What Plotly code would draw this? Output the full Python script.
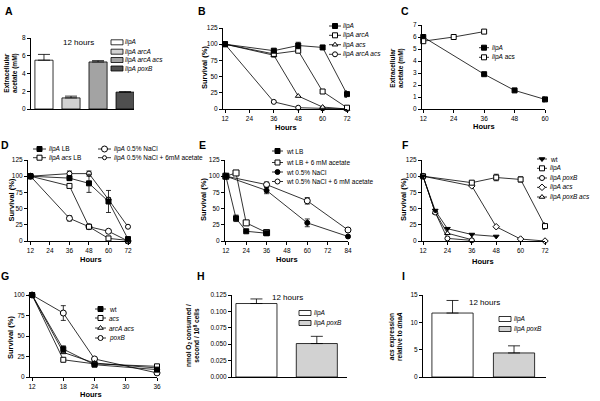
import plotly.graph_objects as go

W, H = 600, 401
FONT = "Liberation Sans, Arial, sans-serif"

# ---------------- DATA ----------------
# A: extracellular acetate at 12 h
a_labels = ["<i>lipA</i>", "<i>lipA arcA</i>", "<i>lipA arcA acs</i>", "<i>lipA poxB</i>"]
a_vals = [5.5, 1.25, 5.3, 1.9]
a_err = [0.65, 0.2, 0.15, 0.05]

# B: survival
b_hours = [12, 36, 48, 60, 72]
b_lipA = [100, 90, 98, 95, 23]
b_lipA_err = [None, None, 5, 3, 5]
b_lipA_arcA = [100, 85, 90, 27, 2]
b_lipA_arcA_err = [None, 5, None, 3, None]
b_lipA_acs = [100, 83, 20, 3, 0]
b_lipA_arcA_acs = [100, 11, 2, 1, 0]

# C: extracellular acetate over time
c_hours_lipA = [12, 36, 48, 60]
c_lipA = [6.0, 2.9, 1.55, 0.8]
c_lipA_err = [None, None, None, 0.2]
c_hours_acs = [12, 24, 36]
c_lipA_acs = [5.65, 6.0, 6.45]

# D: survival
d_hours = [12, 36, 48, 60, 72]
d_lipA_LB = [100, 97, 89, 61, 3]
d_lipA_LB_err = [None, 3, 14, 17, None]
d_lipA_acs_LB = [100, 85, 22, 4, 1]
d_lipA_NaCl = [100, 35, 22, 15, 0]
d_lipA_NaCl_err = [None, 4, None, None, None]
d_lipA_NaCl_ac = [100, 104, 104, 64, 22]
d_lipA_NaCl_ac_err = [None, 4, 4, 3, None]

# E: survival
e_hours_lb = [12, 18, 24, 36]
e_wt_LB = [100, 35, 15, 12]
e_wt_LB_err = [None, 5, None, None]
e_wt_LB_ac = [100, 105, 28, 13]
e_wt_LB_ac_err = [None, 3, None, None]
e_hours_nacl = [12, 36, 60, 84]
e_wt_NaCl = [100, 78, 28, 7]
e_wt_NaCl_err = [None, 5, 6, None]
e_wt_NaCl_ac = [100, 87, 62, 17]
e_wt_NaCl_ac_err = [None, 4, 5, None]

# F: survival
f_hours_wt = [12, 18, 24, 36, 48]
f_wt = [100, 47, 19, 10, 7]
f_hours_lipA = [12, 36, 48, 60, 72]
f_lipA = [100, 90, 98, 95, 23]
f_lipA_err = [None, None, 5, 4, 5]
f_hours_poxB = [12, 18, 24, 36]
f_lipA_poxB = [100, 44, 4, 1]
f_hours_acs = [12, 36, 48, 60, 72]
f_lipA_acs = [100, 85, 22, 3, 0]
f_hours_poxB_acs = [12, 18, 24, 36]
f_lipA_poxB_acs = [100, 44, 12, 2]

# G: survival
g_hours = [12, 18, 24, 36]
g_wt = [100, 34, 15, 9]
g_wt_err = [None, 4, None, None]
g_acs = [100, 21, 16, 13]
g_arcA_acs = [100, 30, 17, 11]
g_poxB = [100, 78, 22, 5]
g_poxB_err = [None, 9, None, None]

# H: oxygen consumption
h_labels = ["<i>lipA</i>", "<i>lipA poxB</i>"]
h_vals = [0.112, 0.051]
h_err = [0.007, 0.011]

# I: acs expression
i_labels = ["<i>lipA</i>", "<i>lipA poxB</i>"]
i_vals = [11.7, 4.4]
i_err = [2.3, 1.3]

# ---------------- STYLE ----------------
A_COLORS = ["#ffffff", "#d2d2d2", "#a3a3a3", "#4f4f4f"]
HI_COLORS = ["#ffffff", "#d2d2d2"]
LEG = 6.5


def dx(a, b):
    return [a / W, b / W]


def dy(top, bottom):
    return [1 - bottom / H, 1 - top / H]


fig = go.Figure()

axis_base = dict(showline=True, linecolor="black", linewidth=1, ticks="outside",
                 ticklen=3, tickwidth=1, tickcolor="black", showgrid=False,
                 zeroline=False, automargin=False,
                 tickfont=dict(size=6.5, color="black", family=FONT))

panels = {
    # name: (x0,x1,ytop,ybottom, xrange, yrange, xticks, yticks)
    1: (31, 134, 38, 109, [-0.48, 3.33], [0, 8], None, [0, 2, 4, 6, 8]),
    2: (223, 347, 28, 109, [11, 72], [0, 125], [12, 24, 36, 48, 60, 72], [0, 25, 50, 75, 100, 125]),
    3: (422, 545, 25, 109, [11.5, 60], [0, 7], [12, 24, 36, 48, 60], [0, 1, 2, 3, 4, 5, 6, 7]),
    4: (28, 128, 160, 241, [10.5, 72], [0, 125], [12, 24, 36, 48, 60, 72], [0, 25, 50, 75, 100, 125]),
    5: (225, 348, 160, 241, [11.5, 84], [0, 125], [12, 24, 36, 48, 60, 72, 84], [0, 25, 50, 75, 100, 125]),
    6: (422, 545, 160, 241, [11.5, 72], [0, 125], [12, 24, 36, 48, 60, 72], [0, 25, 50, 75, 100, 125]),
    7: (30, 157, 295, 377, [11.6, 36], [0, 100], [12, 18, 24, 30, 36], [0, 25, 50, 75, 100]),
    8: (232, 347, 295, 377, [-0.405, 1.5], [0, 0.125], None, [0, 0.025, 0.05, 0.075, 0.1, 0.125]),
    9: (423, 546, 295, 377, [-0.48, 1.52], [0, 15], None, [0, 5, 10, 15]),
}

layout_axes = {}
for k, (x0, x1, yt, yb, xr, yr, xt, yt_vals) in panels.items():
    sx = "xaxis" if k == 1 else f"xaxis{k}"
    sy = "yaxis" if k == 1 else f"yaxis{k}"
    xa = dict(axis_base, domain=dx(x0, x1), range=xr, anchor="y" if k == 1 else f"y{k}")
    if xt is None:
        xa.update(ticks="", showticklabels=False)
    else:
        xa.update(tickvals=xt)
    ya = dict(axis_base, domain=dy(yt, yb), range=yr, anchor="x" if k == 1 else f"x{k}",
              tickvals=yt_vals)
    if k == 8:
        ya.update(tickformat=".3f")
    layout_axes[sx] = xa
    layout_axes[sy] = ya

# overlay axis in pixel coordinates for legends / labels
layout_axes["xaxis10"] = dict(domain=[0, 1], range=[0, W], visible=False, anchor="y10",
                              automargin=False, fixedrange=True)
layout_axes["yaxis10"] = dict(domain=[0, 1], range=[H, 0], visible=False, anchor="x10",
                              automargin=False, fixedrange=True)


def ax(k):
    return ("x", "y") if k == 1 else (f"x{k}", f"y{k}")


def mk(symbol, filled, size=5):
    if filled:
        return dict(symbol=symbol, size=size, color="black", line=dict(color="black", width=1))
    return dict(symbol=symbol, size=size, color="white", line=dict(color="black", width=1))


def series(k, xs, ys, symbol, filled, err=None, size=5):
    xa, ya = ax(k)
    tr = dict(x=xs, y=ys, mode="lines+markers", xaxis=xa, yaxis=ya,
              line=dict(color="black", width=0.8), marker=mk(symbol, filled, size),
              cliponaxis=False, showlegend=False, hoverinfo="skip")
    if err is not None:
        tr["error_y"] = dict(type="data", array=err, visible=True, color="black",
                             thickness=0.8, width=2.5)
    fig.add_trace(go.Scatter(**tr))


def bars(k, vals, errs, colors, width):
    xa, ya = ax(k)
    fig.add_trace(go.Bar(x=list(range(len(vals))), y=vals, xaxis=xa, yaxis=ya, width=width,
                         marker=dict(color=colors, line=dict(color="black", width=0.8)),
                         error_y=dict(type="data", array=errs, arrayminus=[0] * len(errs),
                                      symmetric=False, visible=True, color="black",
                                      thickness=0.8, width=6),
                         showlegend=False, hoverinfo="skip"))


# A
bars(1, a_vals, a_err, A_COLORS, 0.67)
# B
series(2, b_hours, b_lipA_arcA_acs, "circle", False)
series(2, b_hours, b_lipA_acs, "triangle-up", False)
series(2, b_hours, b_lipA_arcA, "square", False, b_lipA_arcA_err)
series(2, b_hours, b_lipA, "square", True, b_lipA_err)
# C
series(3, c_hours_lipA, c_lipA, "square", True, c_lipA_err)
series(3, c_hours_acs, c_lipA_acs, "square", False)
# D
series(4, d_hours, d_lipA_NaCl, "circle", False, d_lipA_NaCl_err, size=6)
series(4, d_hours, d_lipA_NaCl_ac, "circle", False, d_lipA_NaCl_ac_err, size=5)
series(4, d_hours, d_lipA_acs_LB, "square", False)
series(4, d_hours, d_lipA_LB, "square", True, d_lipA_LB_err)
# E
series(5, e_hours_nacl, e_wt_NaCl_ac, "circle", False, e_wt_NaCl_ac_err, size=6)
series(5, e_hours_nacl, e_wt_NaCl, "circle", True, e_wt_NaCl_err)
series(5, e_hours_lb, e_wt_LB_ac, "square", False, e_wt_LB_ac_err, size=6)
series(5, e_hours_lb, e_wt_LB, "square", True, e_wt_LB_err)
# F
series(6, f_hours_acs, f_lipA_acs, "diamond", False)
series(6, f_hours_poxB_acs, f_lipA_poxB_acs, "triangle-up", False)
series(6, f_hours_poxB, f_lipA_poxB, "circle", False)
series(6, f_hours_lipA, f_lipA, "square", False, f_lipA_err)
series(6, f_hours_wt, f_wt, "triangle-down", True)
# G
series(7, g_hours, g_poxB, "circle", False, g_poxB_err, size=6)
series(7, g_hours, g_arcA_acs, "triangle-up", False)
series(7, g_hours, g_acs, "square", False)
series(7, g_hours, g_wt, "square", True, g_wt_err)
# H, I
bars(8, h_vals, h_err, HI_COLORS, 0.68)
bars(9, i_vals, i_err, HI_COLORS, 0.67)

# ---------------- LEGENDS (pixel overlay) ----------------
annotations = []
shapes = []


def text(x, y, s, size=LEG, bold=False, anchor="left", angle=0):
    if bold:
        s = f"<b>{s}</b>"
    annotations.append(dict(x=x, y=y, xref="x10", yref="y10", text=s, showarrow=False,
                            xanchor=anchor, yanchor="middle", textangle=angle, borderpad=0,
                            font=dict(size=size, color="black", family=FONT)))


def line_legend(xl0, xl1, xt, items):
    for y, label, sym, filled, size in items:
        fig.add_trace(go.Scatter(x=[xl0, xl1], y=[y, y], mode="lines", xaxis="x10", yaxis="y10",
                                 line=dict(color="black", width=0.8), showlegend=False,
                                 hoverinfo="skip", cliponaxis=False))
        fig.add_trace(go.Scatter(x=[(xl0 + xl1) / 2], y=[y], mode="markers", xaxis="x10",
                                 yaxis="y10", marker=mk(sym, filled, size), showlegend=False,
                                 hoverinfo="skip", cliponaxis=False))
        text(xt, y, label)


def bar_legend(xs0, xs1, xt, items, hgt=5):
    for y, label, color in items:
        shapes.append(dict(type="rect", xref="x10", yref="y10", x0=xs0, x1=xs1,
                           y0=y - hgt / 2, y1=y + hgt / 2, fillcolor=color,
                           line=dict(color="black", width=0.8)))
        text(xt, y, label)


bar_legend(111, 123, 124, [(42.3, a_labels[0], A_COLORS[0]), (51.7, a_labels[1], A_COLORS[1]),
                           (60, a_labels[2], A_COLORS[2]), (68.5, a_labels[3], A_COLORS[3])])
line_legend(329, 341, 342, [(26, "<i>lipA</i>", "square", True, 5),
                            (35.3, "<i>lipA arcA</i>", "square", False, 5),
                            (44.7, "<i>lipA acs</i>", "triangle-up", False, 5),
                            (54.3, "<i>lipA arcA acs</i>", "circle", False, 5)])
line_legend(479, 489, 491, [(47.7, "<i>lipA</i>", "square", True, 5),
                            (57.3, "<i>lipA</i> acs", "square", False, 5)])
line_legend(33, 46, 48, [(149, "<i>lipA</i> LB", "square", True, 5),
                         (157.7, "<i>lipA acs</i> LB", "square", False, 5)])
line_legend(98, 111, 113, [(149, "<i>lipA</i> 0.5% NaCl", "circle", False, 6),
                           (157.7, "<i>lipA</i> 0.5% NaCl + 6mM acetate", "circle", False, 4)])
line_legend(272, 283, 285, [(151, "wt LB", "square", True, 5),
                            (162.5, "wt LB + 6 mM acetate", "square", False, 5),
                            (172, "wt 0.5% NaCl", "circle", True, 5),
                            (181.5, "wt 0.5% NaCl + 6 mM acetate", "circle", False, 5)])
line_legend(537, 547, 549, [(159, "wt", "triangle-down", True, 5),
                            (168.3, "<i>lipA</i>", "square", False, 5),
                            (178, "<i>lipA poxB</i>", "circle", False, 5),
                            (187.3, "<i>lipA acs</i>", "diamond", False, 5),
                            (197, "<i>lipA poxB acs</i>", "triangle-up", False, 5)])
line_legend(95, 106, 108, [(309, "wt", "square", True, 5),
                           (318, "<i>acs</i>", "square", False, 5),
                           (328, "<i>arcA acs</i>", "triangle-up", False, 5),
                           (338, "<i>poxB</i>", "circle", False, 5)])
bar_legend(299, 311, 313, [(313, h_labels[0], HI_COLORS[0]), (323, h_labels[1], HI_COLORS[1])])
bar_legend(499, 511, 513, [(319, i_labels[0], HI_COLORS[0]), (329, i_labels[1], HI_COLORS[1])])

# "12 hours" labels
text(62, 42, "12 hours", size=8)
text(271, 297, "12 hours", size=8)
text(468, 302, "12 hours", size=8)

# axis titles
text(11, 73, "Extracellular<br>acetate (mM)", size=6.5, bold=True, anchor="center", angle=-90)
text(204, 68, "Survival (%)", size=7.5, bold=True, anchor="center", angle=-90)
text(286, 127, "Hours", size=7.5, bold=True, anchor="center")
text(397, 68, "Extracellular<br>acetate (mM)", size=6.5, bold=True, anchor="center", angle=-90)
text(484, 126, "Hours", size=7.5, bold=True, anchor="center")
text(10.5, 200, "Survival (%)", size=7.5, bold=True, anchor="center", angle=-90)
text(91, 259, "Hours", size=7.5, bold=True, anchor="center")
text(203, 200, "Survival (%)", size=7.5, bold=True, anchor="center", angle=-90)
text(287, 259, "Hours", size=7.5, bold=True, anchor="center")
text(403, 200, "Survival (%)", size=7.5, bold=True, anchor="center", angle=-90)
text(483, 261, "Hours", size=7.5, bold=True, anchor="center")
text(10, 338, "Survival (%)", size=7.5, bold=True, anchor="center", angle=-90)
text(91, 394, "Hours", size=7.5, bold=True, anchor="center")
text(192, 336, "nmol O<sub>2</sub> consumed /<br>second / 10<sup>8</sup> cells", size=6.5, bold=True,
     anchor="center", angle=-90)
text(395, 337, "<i>acs</i> expression<br>relative to <i>dnaA</i>", size=6.5, bold=True,
     anchor="center", angle=-90)

# panel letters
for letter, (x, y) in {"A": (9, 11), "B": (202, 11), "C": (405, 11),
                       "D": (5, 145), "E": (202, 145), "F": (405, 145),
                       "G": (5, 276), "H": (201, 276), "I": (403, 276)}.items():
    text(x, y, letter, size=10.5, bold=True, anchor="center")

fig.update_layout(template="none", width=W, height=H, margin=dict(l=0, r=0, t=0, b=0, pad=0),
                  paper_bgcolor="white", plot_bgcolor="rgba(0,0,0,0)",
                  font=dict(family=FONT, size=7, color="black"),
                  showlegend=False, annotations=annotations, shapes=shapes,
                  bargap=0, **layout_axes)

fig.write_html("out.html", config={"displayModeBar": False, "staticPlot": True},
               post_script="document.body.style.margin='0';document.body.style.padding='0';"
                           "document.documentElement.style.overflow='hidden';")
